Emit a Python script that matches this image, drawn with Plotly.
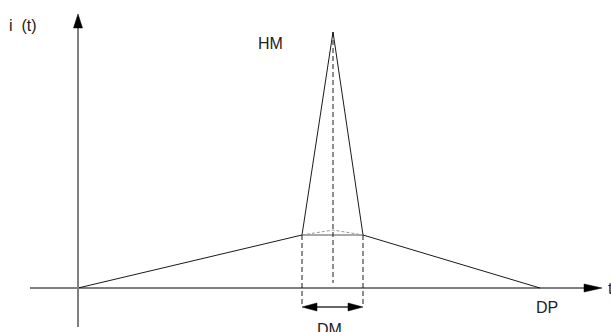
import plotly.graph_objects as go

# data (time units, current units); origin at (0,0)
t_points = [0, 224, 255, 285, 462]          # start, DM start, peak, DM end, DP
i_points = [0, 53, 256, 53, 0]              # base, corner, HM, corner, zero
base_t = [224, 285]
base_i = [53, 53]
hump_t = [224, 255, 285]
hump_i = [53, 58, 53]
dm_start, dm_end, t_peak = 224, 285, 255
base_level = 53
dm_arrow_level = -19
dp_t = 462
hm_level = 256

x_axis_range = [-48, 524]
y_axis_range = [-39, 274]

X_RANGE = [-78, 533]
Y_RANGE = [-44, 288]

fig = go.Figure()

line_col = "#1a1a1a"
# triangle outline
fig.add_trace(go.Scatter(x=t_points, y=i_points, mode="lines",
                         line=dict(color=line_col, width=1), hoverinfo="skip"))
fig.add_trace(go.Scatter(x=base_t, y=base_i, mode="lines",
                         line=dict(color="#555555", width=1), hoverinfo="skip"))
fig.add_trace(go.Scatter(x=hump_t, y=hump_i, mode="lines",
                         line=dict(color="#999999", width=1, dash="3px,2px"), hoverinfo="skip"))
# dashed verticals
fig.add_trace(go.Scatter(x=[dm_start, dm_start], y=[base_level, dm_arrow_level], mode="lines",
                         line=dict(color=line_col, width=1, dash="5px,3px"), hoverinfo="skip"))
fig.add_trace(go.Scatter(x=[dm_end, dm_end], y=[base_level, dm_arrow_level], mode="lines",
                         line=dict(color=line_col, width=1, dash="5px,3px"), hoverinfo="skip"))
fig.add_trace(go.Scatter(x=[t_peak, t_peak], y=[hm_level, 5], mode="lines",
                         line=dict(color=line_col, width=1, dash="5px,3px"), hoverinfo="skip"))

shapes = []
# axes lines
shapes.append(dict(type="line", x0=x_axis_range[0], x1=x_axis_range[1] - 10, y0=0, y1=0,
                   line=dict(color="black", width=1)))
shapes.append(dict(type="line", x0=0, x1=0, y0=y_axis_range[0], y1=y_axis_range[1] - 8,
                   line=dict(color="#808080", width=2)))
# arrow heads
xe, ye = x_axis_range[1], y_axis_range[1]
shapes.append(dict(type="path",
                   path=f"M {xe} 0 L {xe-18} 4 L {xe-18} -4 Z",
                   fillcolor="black", line=dict(color="black", width=0.5)))
shapes.append(dict(type="path",
                   path=f"M 0 {ye} L -4.5 {ye-14} L 4.5 {ye-14} Z",
                   fillcolor="black", line=dict(color="black", width=0.5)))
# DM double arrow
shapes.append(dict(type="line", x0=dm_start + 12, x1=dm_end - 12, y0=dm_arrow_level, y1=dm_arrow_level,
                   line=dict(color="#666666", width=2)))
shapes.append(dict(type="path",
                   path=f"M {dm_start} {dm_arrow_level} L {dm_start+15} {dm_arrow_level+4} L {dm_start+15} {dm_arrow_level-4} Z",
                   fillcolor="black", line=dict(color="black", width=0.5)))
shapes.append(dict(type="path",
                   path=f"M {dm_end} {dm_arrow_level} L {dm_end-15} {dm_arrow_level+4} L {dm_end-15} {dm_arrow_level-4} Z",
                   fillcolor="black", line=dict(color="black", width=0.5)))


def px(x):
    return (x - X_RANGE[0]) / (X_RANGE[1] - X_RANGE[0])


def py(y):
    return (y - Y_RANGE[0]) / (Y_RANGE[1] - Y_RANGE[0])


font = dict(family="Liberation Sans, Arial, sans-serif", size=16, color="#222222")
labels = [
    ("i  (t)", -71, 262, "left"),
    ("HM", 178, 244, "left"),
    ("DM", 251, -41, "center"),
    ("DP", dp_t - 6, -19, "left"),
    ("t", x_axis_range[1] + 4, 0, "left"),
]
annotations = [
    dict(x=px(x), y=py(y), xref="paper", yref="paper", text=txt, showarrow=False,
         xanchor=anc, yanchor="middle", font=font)
    for txt, x, y, anc in labels
]

fig.update_layout(
    width=611, height=332,
    margin=dict(l=0, r=0, t=0, b=0),
    paper_bgcolor="white", plot_bgcolor="white",
    showlegend=False,
    shapes=shapes, annotations=annotations,
    xaxis=dict(range=X_RANGE, visible=False, fixedrange=True),
    yaxis=dict(range=Y_RANGE, visible=False, fixedrange=True),
)

fig.write_html("out.html",
               config={"displayModeBar": False},
               post_script="document.body.style.margin='0';document.body.style.overflow='hidden';")
